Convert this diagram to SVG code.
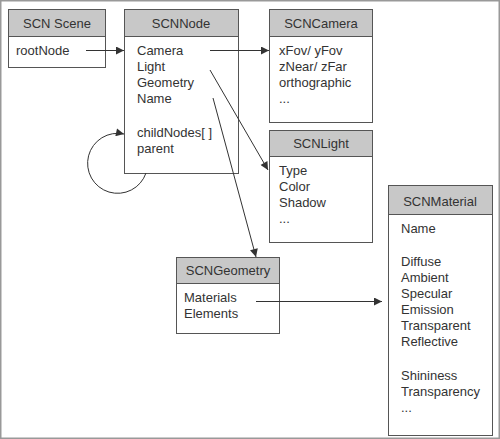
<svg xmlns="http://www.w3.org/2000/svg" width="500" height="439" viewBox="0 0 500 439">
<defs>
<marker id="ah" viewBox="0 0 10 10" refX="10" refY="5" markerWidth="10" markerHeight="8" markerUnits="userSpaceOnUse" orient="auto">
<path d="M0,0 L10,5 L0,10 z" fill="#333"/>
</marker>
<style>
.box{fill:#fff;stroke:#555;stroke-width:1}
.hd{fill:#c8c8c8;stroke:#555;stroke-width:1}
text{font-family:"Liberation Sans",Arial,sans-serif;font-size:13px;fill:#333}
.c{text-anchor:middle}
.ln{fill:none;stroke:#333;stroke-width:1;marker-end:url(#ah)}
</style>
</defs>
<rect x="0.75" y="0.75" width="498.5" height="437.5" fill="#fff" stroke="#999" stroke-width="1.5"/>
<g id="scnscene">
<rect class="box" x="8.5" y="9.5" width="97" height="58"/>
<rect class="hd" x="8.5" y="9.5" width="97" height="27"/>
<text class="c" x="57" y="28">SCN Scene</text>
<text x="16" y="55">rootNode</text>
</g>
<g id="scnnode">
<rect class="box" x="124.5" y="9.5" width="114" height="164"/>
<rect class="hd" x="124.5" y="9.5" width="114" height="27"/>
<text class="c" x="181" y="28">SCNNode</text>
<text x="137" y="55">Camera</text>
<text x="137" y="71">Light</text>
<text x="137" y="87">Geometry</text>
<text x="137" y="103">Name</text>
<text x="137" y="137">childNodes[ ]</text>
<text x="137" y="153">parent</text>
</g>
<g id="scncamera">
<rect class="box" x="269.5" y="9.5" width="103" height="113"/>
<rect class="hd" x="269.5" y="9.5" width="103" height="27"/>
<text class="c" x="321" y="28">SCNCamera</text>
<text x="279" y="55">xFov/ yFov</text>
<text x="279" y="71">zNear/ zFar</text>
<text x="279" y="87">orthographic</text>
<text x="279" y="103">...</text>
</g>
<g id="scnlight">
<rect class="box" x="269.5" y="130.5" width="103" height="112"/>
<rect class="hd" x="269.5" y="130.5" width="103" height="26"/>
<text class="c" x="321" y="148">SCNLight</text>
<text x="279" y="175">Type</text>
<text x="279" y="191">Color</text>
<text x="279" y="207">Shadow</text>
<text x="279" y="223">...</text>
</g>
<g id="scngeometry">
<rect class="box" x="176.5" y="257.5" width="103" height="76"/>
<rect class="hd" x="176.5" y="257.5" width="103" height="26"/>
<text class="c" x="228" y="275">SCNGeometry</text>
<text x="184" y="302">Materials</text>
<text x="184" y="318">Elements</text>
</g>
<g id="scnmaterial">
<rect class="box" x="388.5" y="185.5" width="104" height="250"/>
<rect class="hd" x="388.5" y="185.5" width="104" height="29"/>
<text class="c" x="440" y="206">SCNMaterial</text>
<text x="401" y="233">Name</text>
<text x="401" y="266">Diffuse</text>
<text x="401" y="282">Ambient</text>
<text x="401" y="298">Specular</text>
<text x="401" y="314">Emission</text>
<text x="401" y="330">Transparent</text>
<text x="401" y="346">Reflective</text>
<text x="401" y="380">Shininess</text>
<text x="401" y="396">Transparency</text>
<text x="401" y="412">...</text>
</g>
<g id="connectors">
<line class="ln" x1="86" y1="50.5" x2="124" y2="50.5"/>
<line class="ln" x1="210" y1="50.5" x2="269" y2="50.5"/>
<line class="ln" x1="210" y1="70" x2="268" y2="170"/>
<line class="ln" x1="213" y1="98" x2="256" y2="257"/>
<line class="ln" x1="256" y1="301.5" x2="382" y2="301.5"/>
<path class="ln" d="M146,173 A30,30 0 1 1 124,134"/>
</g>
</svg>
